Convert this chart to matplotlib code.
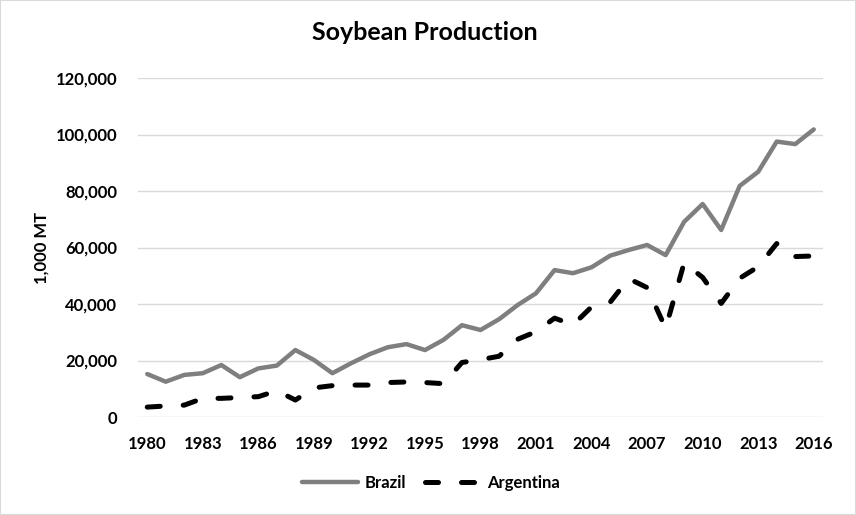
import matplotlib.pyplot as plt
from matplotlib.patches import Rectangle
from matplotlib.ticker import FuncFormatter

plt.rcParams['font.family'] = ['Lato', 'DejaVu Sans']
plt.rcParams['font.weight'] = 'bold'

years = list(range(1980, 2017))
brazil = [15200, 12500, 14900, 15500, 18400, 14100, 17200, 18200, 23700, 20200,
          15500, 19000, 22200, 24700, 25800, 23700, 27300, 32500, 30800, 34600,
          39600, 43800, 52000, 50900, 53000, 57100, 59100, 60900, 57300, 69100,
          75400, 66200, 81800, 86800, 97500, 96600, 101800]
argentina = [3500, 3900, 4200, 6600, 6600, 6900, 7200, 9300, 6000, 10300,
             11100, 11300, 11300, 12200, 12400, 12200, 11800, 19300, 20300, 21500,
             27500, 30200, 35000, 32600, 39000, 40600, 49000, 45800, 31400, 54600,
             49400, 40200, 49100, 53200, 61400, 56800, 57000]
xtick_years = list(range(1980, 2017, 3))
yticks = list(range(0, 120001, 20000))

fig = plt.figure(figsize=(8.56, 5.15), dpi=100)
ax = fig.add_axes([138/856, 1 - 417/515, 685/856, 339/515])

ax.plot(years, brazil, color='#7F7F7F', lw=3.2, label='Brazil',
        solid_capstyle='round', solid_joinstyle='round')
ax.plot(years, argentina, color='black', lw=3.6, label='Argentina',
        dashes=(2.6, 4.6), dash_capstyle='round', dash_joinstyle='round')

ax.set_xlim(1979.5, 2016.5)
ax.set_ylim(0, 120000)
ax.set_xticks(xtick_years)
ax.set_yticks(yticks)
ax.yaxis.set_major_formatter(FuncFormatter(lambda v, p: f"{int(v):,}"))
ax.grid(axis='y', color='#D9D9D9', lw=1)
ax.set_axisbelow(True)
for s in ax.spines.values():
    s.set_visible(False)
ax.tick_params(length=0, labelsize=12)
ax.tick_params(axis='x', pad=14)
ax.tick_params(axis='y', pad=15)
for lab in ax.get_xticklabels() + ax.get_yticklabels():
    lab.set_fontweight('bold')

# y label and title placed in figure coords
fig.text(42/856, 1 - 247.5/515, '1,000 MT', rotation=90, ha='center', va='center',
         fontsize=12, fontweight='bold')
fig.text(425/856, 1 - 40/515, 'Soybean Production', ha='center', va='baseline',
         fontsize=18, fontweight='bold')

fig.legend(loc='center', bbox_to_anchor=(431/856, 1 - 483/515), ncol=2,
           frameon=False, fontsize=12, handlelength=3.4, columnspacing=1.15,
           handletextpad=0.35)

fig.patches.append(Rectangle((0, 0), 1, 1, transform=fig.transFigure,
                             fill=False, edgecolor='#D9D9D9', lw=1.5))

fig.savefig('out.png', dpi=100)
